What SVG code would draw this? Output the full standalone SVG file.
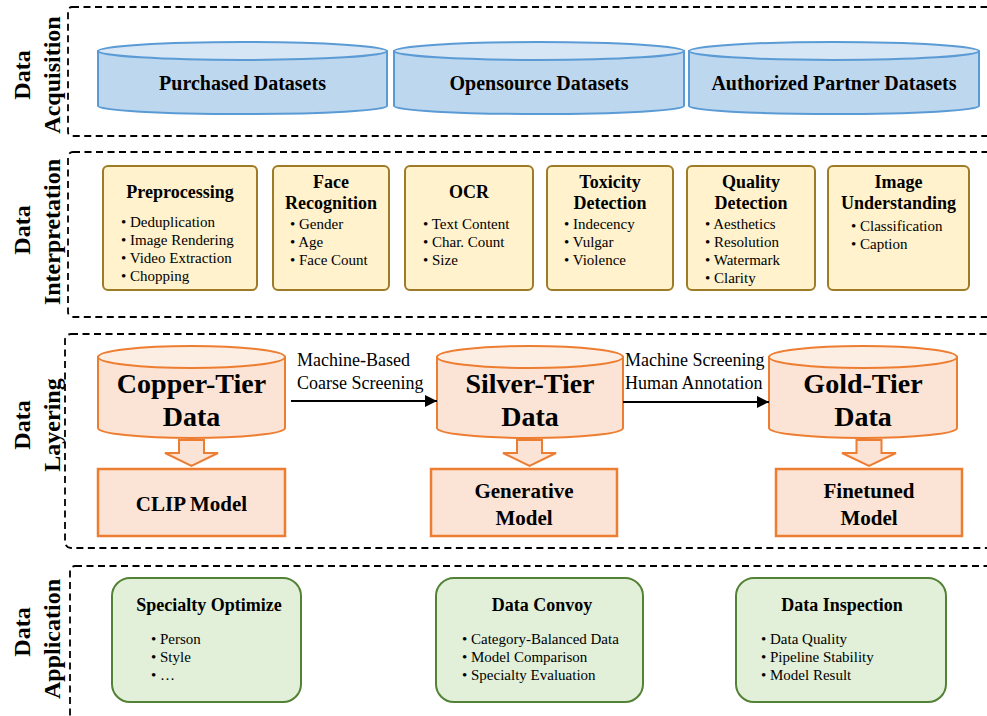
<svg xmlns="http://www.w3.org/2000/svg" width="987" height="716" viewBox="0 0 987 716" font-family="'Liberation Serif', 'DejaVu Serif', serif">
<style>
text{font-family:'Liberation Serif','DejaVu Serif',serif;fill:#000}
.side{font-size:24px;font-weight:bold;text-anchor:middle}
.sec{fill:none;stroke:#000;stroke-width:1.8;stroke-dasharray:7,4.5}
.cylB{fill:#BDD7EE;stroke:#5B9BD5;stroke-width:2}
.cylBt{fill:#D7E6F5;stroke:#5B9BD5;stroke-width:2}
.cylO{fill:#FBE4D5;stroke:#ED7D31;stroke-width:2}
.cylOt{fill:#FDEEE4;stroke:#ED7D31;stroke-width:2}
.ybox{fill:#FFF2CC;stroke:#9E7B27;stroke-width:2}
.gbox{fill:#E2F0D9;stroke:#538135;stroke-width:2}
.obox{fill:#FBE4D5;stroke:#ED7D31;stroke-width:2.5}
.ds{font-size:20px;font-weight:bold;text-anchor:middle}
.t{font-size:18px;font-weight:bold;text-anchor:middle}
.b{font-size:15px}
.tier{font-size:28px;font-weight:bold;text-anchor:middle}
.m{font-size:21px;font-weight:bold;text-anchor:middle}
.lbl{font-size:18px}
.conn{stroke:#000;stroke-width:2;fill:none}
</style>
<defs>
<marker id="ah" viewBox="0 0 10 10" refX="10" refY="5" markerWidth="6" markerHeight="6" orient="auto" markerUnits="strokeWidth">
<path d="M0,0 L10,5 L0,10 z" fill="#000"/>
</marker>
</defs>
<rect width="987" height="716" fill="#fff"/>

<!-- Section frames -->
<g id="sections">
<rect class="sec" x="68" y="7" width="940" height="129" rx="4"/>
<rect class="sec" x="68" y="152" width="940" height="165" rx="5"/>
<rect class="sec" x="65" y="334" width="943" height="214" rx="6"/>
<rect class="sec" x="70" y="566" width="940" height="170" rx="5"/>
</g>

<!-- Side labels -->
<g id="side-labels">
<text class="side" transform="translate(30,75) rotate(-90)">Data</text>
<text class="side" transform="translate(60,75) rotate(-90)">Acquisition</text>
<text class="side" transform="translate(30,230) rotate(-90)">Data</text>
<text class="side" transform="translate(60,232) rotate(-90)">Interpretation</text>
<text class="side" transform="translate(30,425) rotate(-90)">Data</text>
<text class="side" transform="translate(60,425) rotate(-90)">Layering</text>
<text class="side" transform="translate(30,632) rotate(-90)">Data</text>
<text class="side" transform="translate(60,639) rotate(-90)">Application</text>
</g>

<!-- Data Acquisition -->
<g id="purchased">
<path class="cylB" d="M98,51 V106 A144.5,8 0 0 0 387,106 V51 Z"/>
<ellipse class="cylBt" cx="242.5" cy="51" rx="144.5" ry="9"/>
<text class="ds" x="242.5" y="90">Purchased Datasets</text>
</g>
<g id="opensource">
<path class="cylB" d="M394,51 V106 A145,8 0 0 0 684,106 V51 Z"/>
<ellipse class="cylBt" cx="539" cy="51" rx="145" ry="9"/>
<text class="ds" x="539" y="90">Opensource Datasets</text>
</g>
<g id="authorized">
<path class="cylB" d="M689,51 V106 A145,8 0 0 0 979,106 V51 Z"/>
<ellipse class="cylBt" cx="834" cy="51" rx="145" ry="9"/>
<text class="ds" x="834" y="90">Authorized Partner Datasets</text>
</g>

<!-- Data Interpretation -->
<g id="preprocessing">
<rect class="ybox" x="103" y="166" width="154" height="124" rx="5"/>
<text class="t" x="180" y="198">Preprocessing</text>
<text class="b" x="121" y="227">• Deduplication</text>
<text class="b" x="121" y="245">• Image Rendering</text>
<text class="b" x="121" y="263">• Video Extraction</text>
<text class="b" x="121" y="281">• Chopping</text>
</g>
<g id="face">
<rect class="ybox" x="273" y="166" width="116" height="124" rx="5"/>
<text class="t" x="331" y="188">Face</text>
<text class="t" x="331" y="209">Recognition</text>
<text class="b" x="290" y="229">• Gender</text>
<text class="b" x="290" y="247">• Age</text>
<text class="b" x="290" y="265">• Face Count</text>
</g>
<g id="ocr">
<rect class="ybox" x="405" y="166" width="128" height="124" rx="5"/>
<text class="t" x="469" y="198">OCR</text>
<text class="b" x="423" y="229">• Text Content</text>
<text class="b" x="423" y="247">• Char. Count</text>
<text class="b" x="423" y="265">• Size</text>
</g>
<g id="toxicity">
<rect class="ybox" x="547" y="166" width="126" height="124" rx="5"/>
<text class="t" x="610" y="188">Toxicity</text>
<text class="t" x="610" y="209">Detection</text>
<text class="b" x="564" y="229">• Indecency</text>
<text class="b" x="564" y="247">• Vulgar</text>
<text class="b" x="564" y="265">• Violence</text>
</g>
<g id="quality">
<rect class="ybox" x="687" y="166" width="128" height="124" rx="5"/>
<text class="t" x="751" y="188">Quality</text>
<text class="t" x="751" y="209">Detection</text>
<text class="b" x="705" y="229">• Aesthetics</text>
<text class="b" x="705" y="247">• Resolution</text>
<text class="b" x="705" y="265">• Watermark</text>
<text class="b" x="705" y="283">• Clarity</text>
</g>
<g id="image-understanding">
<rect class="ybox" x="828" y="166" width="141" height="124" rx="5"/>
<text class="t" x="898.5" y="188">Image</text>
<text class="t" x="898.5" y="209">Understanding</text>
<text class="b" x="851" y="231">• Classification</text>
<text class="b" x="851" y="249">• Caption</text>
</g>

<!-- Data Layering -->
<g id="copper">
<path class="cylO" d="M98,357 V428 A93.5,10 0 0 0 285,428 V357 Z"/>
<ellipse class="cylOt" cx="191.5" cy="357" rx="93.5" ry="11"/>
<text class="tier" x="191.5" y="393">Copper-Tier</text>
<text class="tier" x="191.5" y="426">Data</text>
</g>
<g id="silver">
<path class="cylO" d="M437,357 V428 A93,10 0 0 0 623,428 V357 Z"/>
<ellipse class="cylOt" cx="530" cy="357" rx="93" ry="11"/>
<text class="tier" x="530" y="393">Silver-Tier</text>
<text class="tier" x="530" y="426">Data</text>
</g>
<g id="gold">
<path class="cylO" d="M769,357 V428 A94,10 0 0 0 957,428 V357 Z"/>
<ellipse class="cylOt" cx="863" cy="357" rx="94" ry="11"/>
<text class="tier" x="863" y="393">Gold-Tier</text>
<text class="tier" x="863" y="426">Data</text>
</g>
<g id="clip">
<rect class="obox" x="98" y="469" width="187" height="67"/>
<text class="m" x="191.5" y="511">CLIP Model</text>
</g>
<g id="generative">
<rect class="obox" x="431" y="469" width="186" height="67"/>
<text class="m" x="524" y="498">Generative</text>
<text class="m" x="524" y="525">Model</text>
</g>
<g id="finetuned">
<rect class="obox" x="776" y="469" width="186" height="67"/>
<text class="m" x="869" y="498">Finetuned</text>
<text class="m" x="869" y="525">Model</text>
</g>

<!-- Data Application -->
<g id="specialty">
<rect class="gbox" x="112" y="578" width="189" height="124" rx="18"/>
<text class="t" x="209" y="611">Specialty Optimize</text>
<text class="b" x="151" y="644">• Person</text>
<text class="b" x="151" y="662">• Style</text>
<text class="b" x="151" y="680">• …</text>
</g>
<g id="convoy">
<rect class="gbox" x="436" y="578" width="207" height="124" rx="18"/>
<text class="t" x="542" y="611">Data Convoy</text>
<text class="b" x="462" y="644">• Category-Balanced Data</text>
<text class="b" x="462" y="662">• Model Comparison</text>
<text class="b" x="462" y="680">• Specialty Evaluation</text>
</g>
<g id="inspection">
<rect class="gbox" x="736" y="578" width="210" height="124" rx="18"/>
<text class="t" x="842" y="611">Data Inspection</text>
<text class="b" x="761" y="644">• Data Quality</text>
<text class="b" x="761" y="662">• Pipeline Stability</text>
<text class="b" x="761" y="680">• Model Result</text>
</g>

<!-- Connectors -->
<g id="connectors">
<line class="conn" x1="291" y1="401" x2="437" y2="401" marker-end="url(#ah)"/>
<line class="conn" x1="623" y1="402" x2="769" y2="402" marker-end="url(#ah)"/>
<polygon class="cylO" points="179,440 204,440 204,453 218,453 191.5,466 165,453 179,453"/>
<polygon class="cylO" points="517,440 542,440 542,453 556,453 529.5,466 503,453 517,453"/>
<polygon class="cylO" points="856.5,440 881.5,440 881.5,453 896,453 869,466 842,453 856.5,453"/>
<text class="lbl" x="297" y="366">Machine-Based</text>
<text class="lbl" x="297" y="389">Coarse Screening</text>
<text class="lbl" x="625" y="366">Machine Screening</text>
<text class="lbl" x="625" y="389">Human Annotation</text>
</g>
</svg>
